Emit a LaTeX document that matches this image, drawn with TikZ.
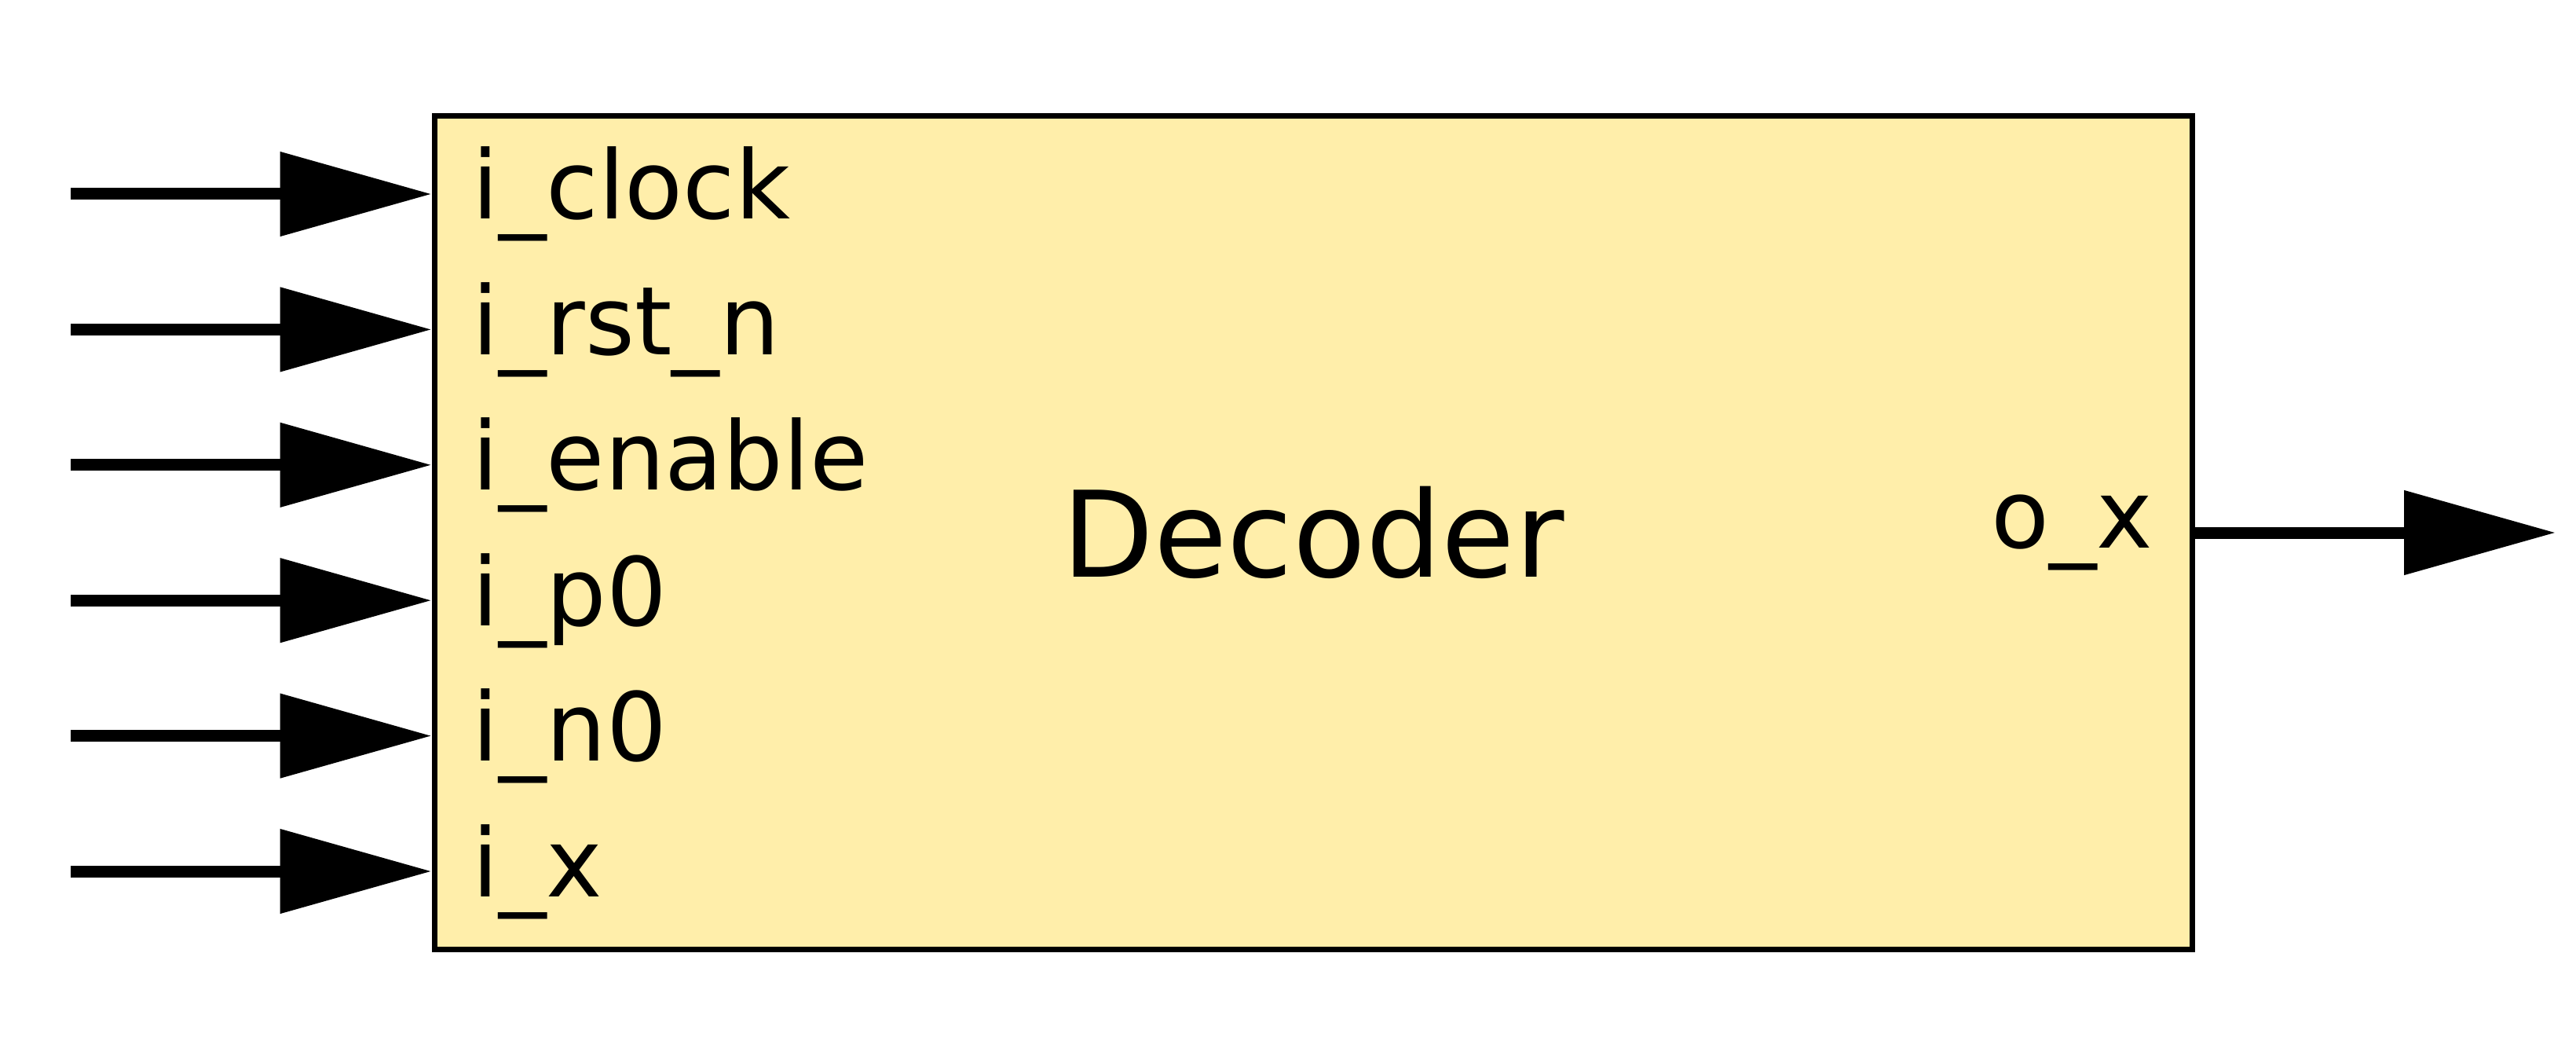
\documentclass[tikz,border=0pt]{standalone}
\usepackage{fontspec}
\setmainfont{DejaVu Sans}
\usetikzlibrary{arrows.meta}

\definecolor{decfill}{HTML}{FFEEAA}
\tikzset{
  port/.style={line width=0.15cm, -{Triangle[length=1.93cm,width=1.04cm]}},
  portlabel/.style={inner sep=0pt, font=\fontsize{34.4}{40}\selectfont},
}

\begin{document}
\begin{tikzpicture}
    \useasboundingbox (0,0) rectangle (32.8,13.24);
    \node[draw=black, line width=0.07cm, fill=decfill, inner sep=0pt,
          minimum width=22.38cm, minimum height=10.6cm,
          font=\fontsize{43.2}{50}\selectfont] (dec) at (16.72,6.46) {Decoder};

    % inputs
    \foreach \lbl [count=\i] in {i\_clock, i\_rst\_n, i\_enable, i\_p0, i\_n0, i\_x} {
        \coordinate (src\i) at (0.9, {10.77-1.724*(\i-1)});
        \node[portlabel, anchor=base west] (lbl\i) at ([xshift=0.515cm, yshift=-0.32cm]dec.west |- src\i) {\lbl};
        \draw[port] (src\i) -- (dec.west |- src\i);
    }

    % output
    \coordinate (dst) at (32.54,6.46);
    \node[portlabel, anchor=base east] (olbl) at ([xshift=-0.525cm, yshift=-0.19cm]dec.east) {o\_x};
    \draw[port] (dec.east) -- (dst);
\end{tikzpicture}
\end{document}
